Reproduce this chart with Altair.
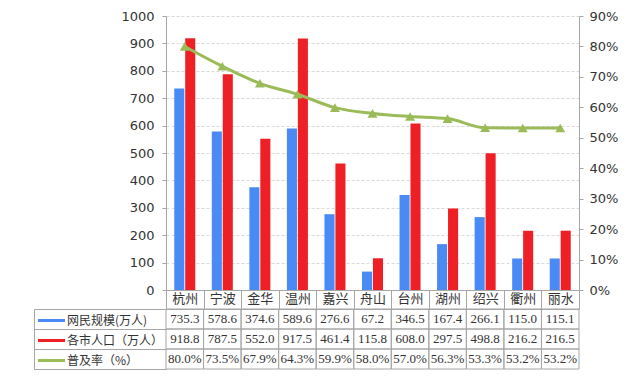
import altair as alt
import pandas as pd

cities = ["杭州", "宁波", "金华", "温州", "嘉兴", "舟山", "台州", "湖州", "绍兴", "衢州", "丽水"]
netizens = [735.3, 578.6, 374.6, 589.6, 276.6, 67.2, 346.5, 167.4, 266.1, 115.0, 115.1]
population = [918.8, 787.5, 552.0, 917.5, 461.4, 115.8, 608.0, 297.5, 498.8, 216.2, 216.5]
rate = [80.0, 73.5, 67.9, 64.3, 59.9, 58.0, 57.0, 56.3, 53.3, 53.2, 53.2]
series = ["网民规模(万人)", "各市人口（万人）", "普及率（%）"]
left_ticks = list(range(0, 1001, 100))
right_ticks = list(range(0, 91, 10))

BLUE = "#4A8AF4"
RED = "#EE2026"
GREEN = "#9BBB59"
GRID = "#D9D9D9"
BORDER = "#A6A6A6"
TXT = "#333333"
CJK = "Noto Sans CJK SC"

bars_df = pd.DataFrame({
    "city": cities * 2,
    "series": [series[0]] * len(cities) + [series[1]] * len(cities),
    "value": netizens + population,
})
rate_df = pd.DataFrame({"city": cities, "series": series[2], "rate": rate})
tbl_df = pd.DataFrame({
    "city": cities * 3,
    "row": [series[0]] * len(cities) + [series[1]] * len(cities) + [series[2]] * len(cities),
    "label": [f"{v:.1f}" for v in netizens] + [f"{v:.1f}" for v in population] + [f"{v:.1f}%" for v in rate],
})

W, H = 413, 274

legend = alt.Legend(
    title=None, orient="none", legendX=-123, legendY=296,
    labelFont=CJK, labelFontSize=12, labelColor=TXT,
    symbolType="M-2,0H2", symbolSize=182, symbolStrokeWidth=3,
    labelOffset=7, rowPadding=5, padding=0,
)
color = alt.Color("series:N", scale=alt.Scale(domain=series, range=[BLUE, RED, GREEN]), legend=legend)

x_top = alt.X("city:N", sort=cities,
              scale=alt.Scale(domain=cities, paddingInner=0.44, paddingOuter=0.22),
              axis=alt.Axis(title=None, labels=False, ticks=False, domain=True,
                            domainColor=BORDER, grid=False))

bars = alt.Chart(bars_df).mark_bar().encode(
    x=x_top,
    xOffset=alt.XOffset("series:N", sort=series[:2],
                        scale=alt.Scale(domain=series[:2], paddingInner=0.08)),
    y=alt.Y("value:Q", scale=alt.Scale(domain=[0, 1000], nice=False),
            axis=alt.Axis(title=None, orient="left", values=left_ticks, grid=True, format="d",
                          gridColor=GRID, gridDash=[3, 2], domainColor=BORDER,
                          tickColor=BORDER, tickSize=4, labelPadding=8,
                          labelFont="DejaVu Sans", labelFontSize=13, labelColor=TXT)),
    color=color,
)

y_rate = alt.Y("rate:Q", scale=alt.Scale(domain=[0, 90], nice=False),
               axis=alt.Axis(title=None, orient="right", values=right_ticks,
                             labelExpr="datum.value + '%'", grid=False,
                             domainColor=BORDER, tickColor=BORDER, tickSize=4,
                             labelPadding=6, labelFont="DejaVu Sans",
                             labelFontSize=13, labelColor=TXT))
line = alt.Chart(rate_df).mark_line(strokeWidth=3, interpolate="monotone").encode(
    x=x_top, y=y_rate, color=color)
pts = alt.Chart(rate_df).mark_point(shape="triangle-up", filled=True, size=100, opacity=1).encode(
    x=x_top, y=y_rate, color=color)

top = alt.layer(bars, alt.layer(line, pts)).resolve_scale(y="independent").properties(width=W, height=H)

x_tbl = alt.X("city:N", sort=cities,
              scale=alt.Scale(domain=cities, paddingInner=0, paddingOuter=0),
              axis=alt.Axis(title=None, orient="top", tickBand="extent", tickSize=19,
                            tickColor=BORDER, domainColor=BORDER, grid=False, labelAngle=0,
                            labelPadding=-15, labelFont=CJK, labelFontSize=13,
                            labelColor=TXT))
y_scale = alt.Scale(domain=series, paddingInner=0, paddingOuter=0)

cells = alt.Chart(tbl_df).mark_rect(fill="transparent", stroke=BORDER, strokeWidth=1).encode(
    x=x_tbl,
    y=alt.Y("row:N", sort=series, scale=y_scale,
            axis=alt.Axis(title=None, orient="left", offset=132, labels=False, ticks=False,
                          domain=True, domainColor=BORDER)),
)
text = alt.Chart(tbl_df).mark_text(font="Liberation Serif", fontSize=13, color=TXT).encode(
    x=x_tbl,
    y=alt.Y("row:N", sort=series, scale=y_scale,
            axis=alt.Axis(title=None, orient="left", labels=False, domain=False,
                          tickBand="extent", tickSize=132, tickColor=BORDER)),
    text="label:N",
)
table = alt.layer(cells, text).resolve_axis(y="independent").properties(width=W, height=60)

chart = alt.vconcat(top, table, spacing=19, bounds="flush").properties(
    padding={"left": 33, "top": 10, "right": 5, "bottom": 5},
    background="white",
).configure_view(stroke=None)

chart.save("out.html", embed_options={"renderer": "svg", "actions": False})
